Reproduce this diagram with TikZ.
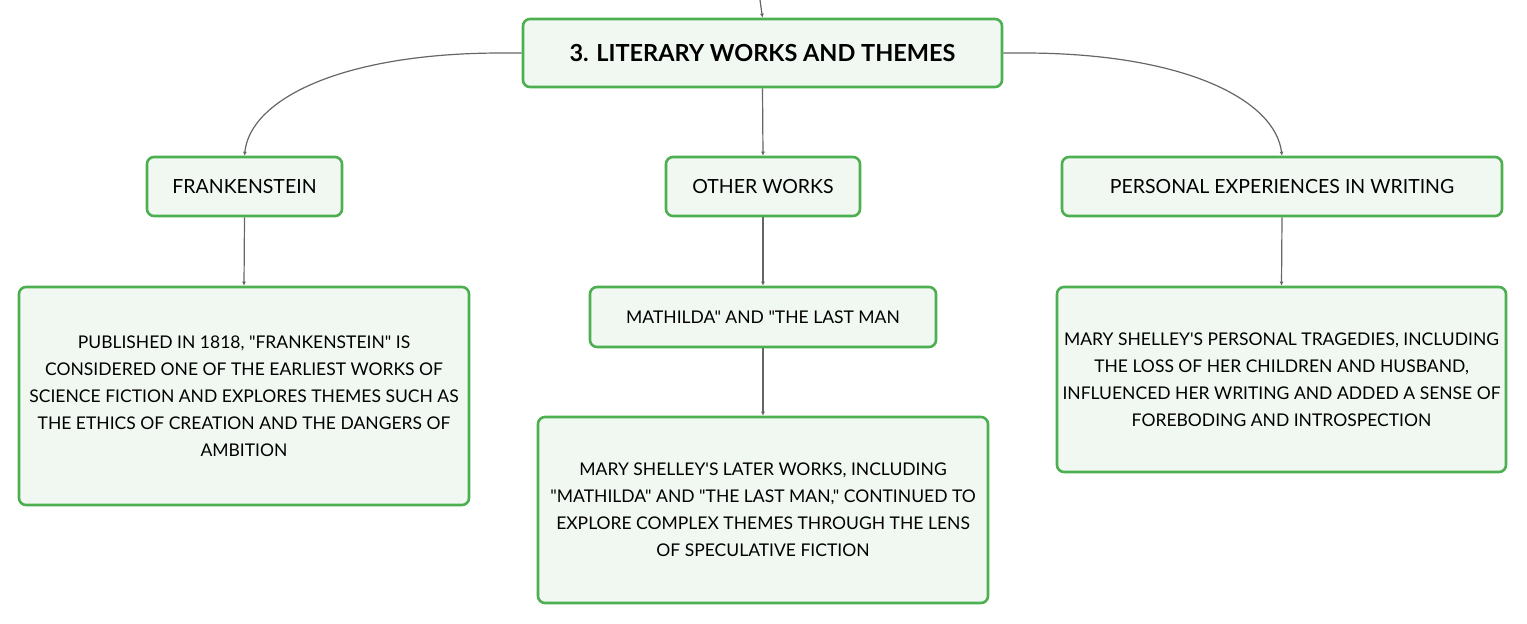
\documentclass[tikz,border=0pt]{standalone}
\usepackage{fontspec}
\setmainfont{Lato}[Ligatures=TeXOff]
\definecolor{bordergreen}{HTML}{4CAF50}
\definecolor{fillgreen}{HTML}{F1F8F2}
\definecolor{linegray}{HTML}{666666}
\usetikzlibrary{arrows.meta}
\tikzset{
  box/.style={draw=bordergreen, line width=2.6pt, fill=fillgreen, rounded corners=7pt,
    align=center, inner sep=0pt, font=\fontsize{19.5}{27}\selectfont},
  descbox/.style={box, font=\fontsize{17.5}{27}\selectfont},
  conn/.style={draw=linegray, line width=1.2pt, -{Latex[length=4pt,width=4pt]}},
}
\begin{document}
\begin{tikzpicture}[x=1pt,y=-1pt]
\useasboundingbox (0,0) rectangle (1527,624);
\node[box, minimum width=479, minimum height=68, font=\fontsize{23.5}{27}\selectfont\bfseries] (root) at (762.5,53) {3. LITERARY WORKS AND THEMES};
\node[box, minimum width=195, minimum height=59] (frank) at (244.5,186.5) {FRANKENSTEIN};
\node[box, minimum width=194, minimum height=59] (other) at (763,186.5) {OTHER WORKS};
\node[box, minimum width=440, minimum height=59] (pers) at (1282,186.5) {PERSONAL EXPERIENCES IN WRITING};
\node[descbox, minimum width=450, minimum height=218] (frankd) at (244,396) {PUBLISHED IN 1818, "FRANKENSTEIN" IS\\CONSIDERED ONE OF THE EARLIEST WORKS OF\\SCIENCE FICTION AND EXPLORES THEMES SUCH AS\\THE ETHICS OF CREATION AND THE DANGERS OF\\AMBITION};
\node[descbox, minimum width=346, minimum height=60] (math) at (763,317) {MATHILDA" AND "THE LAST MAN};
\node[descbox, minimum width=450, minimum height=186] (mathd) at (763,510) {MARY SHELLEY'S LATER WORKS, INCLUDING\\"MATHILDA" AND "THE LAST MAN," CONTINUED TO\\EXPLORE COMPLEX THEMES THROUGH THE LENS\\OF SPECULATIVE FICTION};
\node[descbox, minimum width=449, minimum height=185] (persd) at (1281.5,379.5) {MARY SHELLEY'S PERSONAL TRAGEDIES, INCLUDING\\THE LOSS OF HER CHILDREN AND HUSBAND,\\INFLUENCED HER WRITING AND ADDED A SENSE OF\\FOREBODING AND INTROSPECTION};
\coordinate (top) at (760,0);
\draw[conn] (top) -- (root.north);
\draw[conn] (root.west) -- ++(-20,0) .. controls (340,53) and (250,100) .. (frank.north);
\draw[conn] (root.east) -- ++(20,0) .. controls (1185,53) and (1275,100) .. (pers.north);
\draw[conn] (root.south) -- (other.north);
\draw[conn] (frank.south) -- (frankd.north);
\draw[conn] (other.south) -- (math.north);
\draw[conn] (math.south) -- (mathd.north);
\draw[conn] (pers.south) -- (persd.north);
\end{tikzpicture}
\end{document}
